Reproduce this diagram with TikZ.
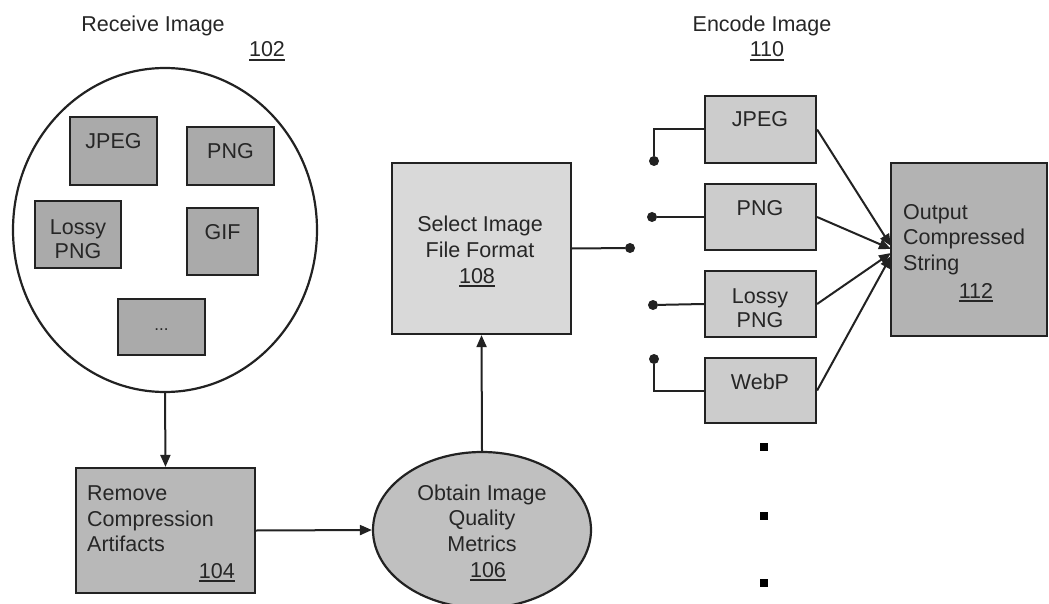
\documentclass[tikz,border=0pt]{standalone}
\usepackage{fontspec}
\setmainfont{Liberation Sans}
\usetikzlibrary{shapes.geometric,arrows.meta}
\definecolor{linec}{HTML}{222222}
\definecolor{innerc}{HTML}{AAAAAA}
\definecolor{removec}{HTML}{B8B8B8}
\definecolor{obtainc}{HTML}{C0C0C0}
\definecolor{selectc}{HTML}{D9D9D9}
\definecolor{encc}{HTML}{CCCCCC}
\definecolor{outc}{HTML}{B3B3B3}
\newcommand\ulnum[1]{\leavevmode\vtop{\hbox{#1}\kern1.8pt\hrule height 1.8pt}}
\begin{document}
\begin{tikzpicture}[x=1pt,y=-1pt,
  font=\fontsize{21.5}{26}\selectfont,
  box/.style={draw=linec,line width=2.2pt,rectangle,inner sep=0pt},
  txt/.style={anchor=base,inner sep=0pt,text=black!85},
  ltxt/.style={anchor=base west,inner sep=0pt,text=black!85},
  conn/.style={draw=linec,line width=2pt},
  arr/.style={conn,-{Triangle[length=12pt,width=10pt]}},
  dot/.style={circle,fill=linec,inner sep=0pt,minimum size=10pt},
  sq/.style={rectangle,fill=black,inner sep=0pt,minimum size=8.5pt}]
\useasboundingbox (0,0) rectangle (1049,604);
\fill[white] (0,0) rectangle (1049,604);

% titles
\node[txt] (t102a) at (153,32) {Receive Image};
\node[txt] (t102) at (267,57) {\ulnum{102}};
\node[txt] (t110a) at (762,32) {Encode Image};
\node[txt] (t110) at (767,57) {\ulnum{110}};

% receive circle
\node[draw=linec,line width=2.2pt,ellipse,fill=white,minimum width=304pt,minimum height=324pt,inner sep=0pt] (recv) at (165,230) {};
\node[box,fill=innerc,minimum width=87pt,minimum height=68pt] (ijpg) at (113.5,151) {};
\node[box,fill=innerc,minimum width=87pt,minimum height=58pt] (ipng) at (230.5,156) {};
\node[box,fill=innerc,minimum width=86pt,minimum height=67pt] (ilossy) at (78,234.5) {};
\node[box,fill=innerc,minimum width=71pt,minimum height=67pt] (igif) at (222.5,241.5) {};
\node[box,fill=innerc,minimum width=87pt,minimum height=56pt] (imore) at (161.5,327) {};
\node[txt] (ijpgt) at (113.5,149) {JPEG};
\node[txt] (ipngt) at (230.5,159) {PNG};
\node[txt] (ilossyt1) at (78,234) {Lossy};
\node[txt] (ilossyt2) at (78,258) {PNG};
\node[txt] (igift) at (222.5,240) {GIF};
\node[txt,font=\fontsize{17}{20}\selectfont] (imoret) at (161.5,330) {...};

% remove
\node[box,fill=removec,minimum width=179pt,minimum height=125pt] (remove) at (165.5,530.5) {};
\node[ltxt] (rem1) at (87,500) {Remove};
\node[ltxt] (rem2) at (87,526) {Compression};
\node[ltxt] (rem3) at (87,551) {Artifacts};
\node[anchor=base east,inner sep=0pt,text=black!85] (rem4) at (235,578) {\ulnum{104}};

% obtain
\node[draw=linec,line width=2.2pt,ellipse,fill=obtainc,minimum width=218pt,minimum height=156pt,inner sep=0pt] (obtain) at (482,530) {};
\node[txt] (ob1) at (482,500) {Obtain Image};
\node[txt] (ob2) at (482,525) {Quality};
\node[txt] (ob3) at (482,551) {Metrics};
\node[txt] (ob4) at (488,577) {\ulnum{106}};

% select
\node[box,fill=selectc,minimum width=179pt,minimum height=171pt] (select) at (481.5,248.5) {};
\node[txt] (se1) at (480,232) {Select Image};
\node[txt] (se2) at (480,257) {File Format};
\node[txt] (se3) at (477,283) {\ulnum{108}};

% encode boxes
\node[box,fill=encc,minimum width=111pt,minimum height=67pt] (ejpg) at (760.5,129.5) {};
\node[box,fill=encc,minimum width=111pt,minimum height=66pt] (epng) at (760.5,217) {};
\node[box,fill=encc,minimum width=111pt,minimum height=66pt] (elossy) at (760.5,304) {};
\node[box,fill=encc,minimum width=111pt,minimum height=65pt] (ewebp) at (760.5,390.5) {};
\node[txt] (ejpgt) at (760,127) {JPEG};
\node[txt] (epngt) at (760,215) {PNG};
\node[txt] (elossyt1) at (760,303) {Lossy};
\node[txt] (elossyt2) at (760,327) {PNG};
\node[txt] (ewebpt) at (760,389) {WebP};

% output
\node[box,fill=outc,minimum width=156pt,minimum height=173pt] (out) at (969,249.5) {};
\node[ltxt] (ou1) at (903,219) {Output};
\node[ltxt] (ou2) at (903,244) {Compressed};
\node[ltxt] (ou3) at (903,270) {String};
\node[txt] (ou4) at (976,298) {\ulnum{112}};

% switch dots
\node[dot] (dsel) at (630,248) {};
\node[dot] (d1) at (654,161) {};
\node[dot] (d2) at (652,217) {};
\node[dot] (d3) at (653,305) {};
\node[dot] (d4) at (654,359) {};

% ellipsis squares
\node[sq] (sq1) at (764,447) {};
\node[sq] (sq2) at (764,516) {};
\node[sq] (sq3) at (764,583) {};

% connectors
\draw[arr] (recv.south) -- (remove.north);
\draw[arr] (remove.east) -- (obtain.west);
\draw[arr] (obtain.north) -- (select.south);
\draw[conn] (select.east) -- (dsel);
\draw[conn] (ejpg.west) -| (d1);
\draw[conn] (epng.west) -- (d2);
\draw[conn] (elossy.west) -- (d3);
\draw[conn] (ewebp.west) -| (d4);

\coordinate (a1) at (891,246);
\coordinate (a2) at (891,249);
\coordinate (a3) at (891,253);
\coordinate (a4) at (891,256);
\draw[arr] (ejpg.east) -- (a1);
\draw[arr] (epng.east) -- (a2);
\draw[arr] (elossy.east) -- (a3);
\draw[arr] (ewebp.east) -- (a4);
\end{tikzpicture}
\end{document}
